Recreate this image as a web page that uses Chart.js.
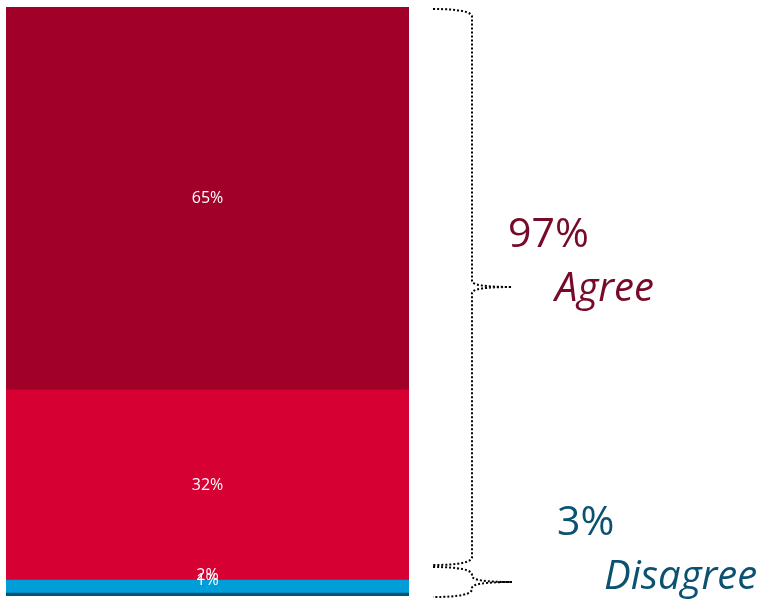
<!DOCTYPE html>
<html>
<head>
<meta charset="utf-8">
<script src="https://cdn.jsdelivr.net/npm/chart.js@4"></script>
<style>
  html, body { margin: 0; padding: 0; background: #fff; }
  #wrap { width: 760px; height: 599px; }
</style>
</head>
<body>
<div id="wrap"><canvas id="chart" width="760" height="599"></canvas></div>
<script>
// chart data (one stacked column, bottom segment first)
const categories = ['Response'];
const seriesNames = ['Strongly disagree', 'Disagree', 'Agree', 'Strongly agree'];
const seriesValues = [0.5, 2.2, 32.3, 65];
const seriesColors = ['#005478', '#009ED8', '#D70033', '#A10029'];

// bracket summaries
const groupNames = ['Agree', 'Disagree'];
const groupTotals = [97, 3];
const groupColors = ['#760A28', '#0B5270'];

// white value labels inside the segments
const SegmentLabels = {
  id: 'segment-labels',
  afterDatasetsDraw(chart) {
    const { ctx, chartArea } = chart;
    ctx.save();
    ctx.fillStyle = '#fff';
    ctx.font = '16px "Open Sans"';
    ctx.textAlign = 'center';
    ctx.textBaseline = 'middle';
    chart.data.datasets.forEach((ds, i) => {
      const bar = chart.getDatasetMeta(i).data[0];
      let y = (bar.y + bar.base) / 2;
      // tiny segments: keep label from falling off the bottom
      y = Math.min(y, chartArea.bottom - 16 - i * 5);
      ctx.fillText(Math.round(ds.data[0]) + '%', bar.x, y);
    });
    ctx.restore();
  }
};

// dotted curly brackets + totals on the right
const Brackets = {
  id: 'brackets',
  afterDraw(chart) {
    const { ctx, chartArea } = chart;
    const x0 = 433, x1 = 472, xTip = 512;
    const top = chartArea.top + 2;
    const bottom = chartArea.bottom + 1;
    const split = bottom - 31;

    const brace = (t, b) => {
      const mid = (t + b) / 2;
      ctx.beginPath();
      ctx.moveTo(x0, t);
      ctx.quadraticCurveTo(x1, t, x1, t + 8);
      ctx.lineTo(x1, mid - 6);
      ctx.quadraticCurveTo(x1, mid, xTip, mid);
      ctx.quadraticCurveTo(x1, mid, x1, mid + 6);
      ctx.lineTo(x1, b - 8);
      ctx.quadraticCurveTo(x1, b, x0, b);
      ctx.stroke();
    };

    ctx.save();
    ctx.strokeStyle = '#000';
    ctx.lineWidth = 2;
    ctx.setLineDash([2, 2]);
    brace(top, split - 1);
    brace(split + 1, bottom);
    ctx.restore();

    ctx.save();
    ctx.textAlign = 'left';
    ctx.textBaseline = 'middle';
    const pos = [
      { vx: 508, vy: 235, nx: 555, ny: 290 },
      { vx: 557, vy: 523, nx: 604, ny: 578 }
    ];
    groupNames.forEach((name, i) => {
      ctx.fillStyle = groupColors[i];
      ctx.font = '41px "Open Sans"';
      ctx.fillText(groupTotals[i] + '%', pos[i].vx, pos[i].vy);
      ctx.font = 'italic 40px "Open Sans"';
      ctx.fillText(name, pos[i].nx, pos[i].ny);
    });
    ctx.restore();
  }
};

new Chart(document.getElementById('chart'), {
  type: 'bar',
  data: {
    labels: categories,
    datasets: seriesNames.map((name, i) => ({
      label: name,
      data: [seriesValues[i]],
      backgroundColor: seriesColors[i],
      borderWidth: 0,
      barPercentage: 1,
      categoryPercentage: 1
    }))
  },
  options: {
    responsive: false,
    animation: false,
    layout: { padding: { left: 6, right: 351, top: 7, bottom: 3 } },
    plugins: {
      legend: { display: false },
      tooltip: { enabled: false }
    },
    scales: {
      x: { stacked: true, display: false },
      y: { stacked: true, display: false, min: 0, max: 100 }
    }
  },
  plugins: [SegmentLabels, Brackets]
});
</script>
</body>
</html>
